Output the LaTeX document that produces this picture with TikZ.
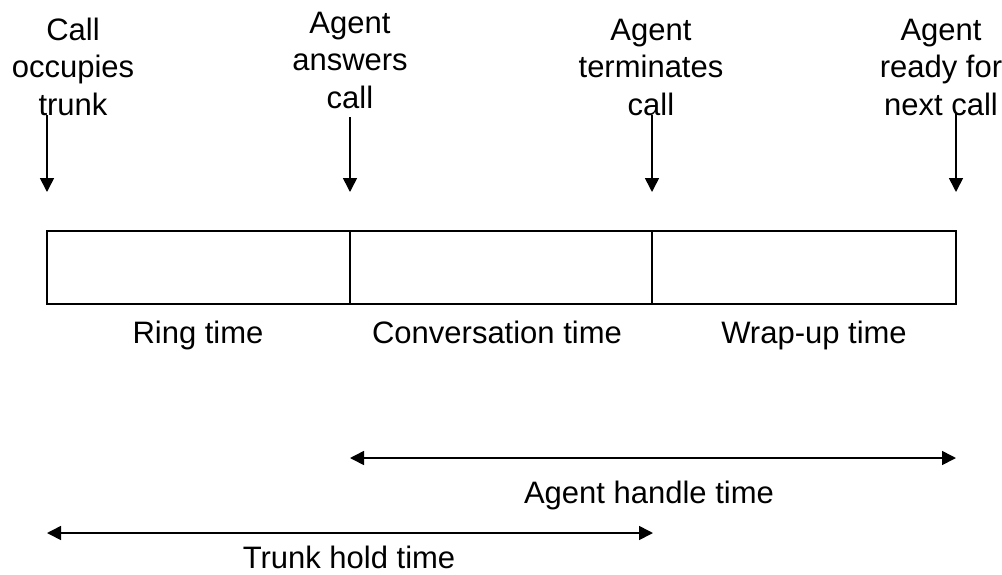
\documentclass[tikz,border=0pt]{standalone}
\usepackage{fontspec}
\setmainfont{Liberation Sans}
\usetikzlibrary{arrows.meta}
\begin{document}
\begin{tikzpicture}[x=1pt,y=-1pt,
  lbl/.style={font=\fontsize{31}{37.5}\selectfont, inner sep=0pt, align=center, anchor=base},
  conn/.style={line width=1.6pt, -{Triangle[width=14pt,length=14pt]}},
  dbl/.style={line width=1.6pt, {Triangle[width=14pt,length=14pt]}-{Triangle[width=14pt,length=14pt]}},
  boxline/.style={line width=1.6pt}]
\useasboundingbox (0,0) rectangle (1002,574);
% event labels (anchored at the baseline of their last line)
\node[lbl] (l0) at (73,115) {Call\\occupies\\trunk};
\node[lbl] (l1) at (350,108) {Agent\\answers\\call};
\node[lbl] (l2) at (651,115) {Agent\\terminates\\call};
\node[lbl] (l3) at (941,115) {Agent\\ready for\\next call};
% arrow ends
\coordinate (s0) at (47,115);  \coordinate (e0) at (47,192);
\coordinate (s1) at (350,117); \coordinate (e1) at (350,192);
\coordinate (s2) at (652,115); \coordinate (e2) at (652,192);
\coordinate (s3) at (956,112); \coordinate (e3) at (956,192);
\draw[conn] (s0) -- (e0);
\draw[conn] (s1) -- (e1);
\draw[conn] (s2) -- (e2);
\draw[conn] (s3) -- (e3);
% timeline box
\coordinate (b0) at (47,231);
\coordinate (b3) at (956,304);
\coordinate (d1t) at (350,231); \coordinate (d1b) at (350,304);
\coordinate (d2t) at (652,231); \coordinate (d2b) at (652,304);
\draw[boxline] (b0) rectangle (b3);
\draw[boxline] (d1t) -- (d1b);
\draw[boxline] (d2t) -- (d2b);
\node[lbl] (ring) at (198,343) {Ring time};
\node[lbl] (conv) at (497,343) {Conversation time};
\node[lbl] (wrap) at (814,343) {Wrap-up time};
% durations
\coordinate (h1) at (350,458); \coordinate (h2) at (956,458);
\draw[dbl] (h1) -- (h2);
\node[lbl] (aht) at (649,503) {Agent handle time};
\coordinate (t1) at (47,533); \coordinate (t2) at (653,533);
\draw[dbl] (t1) -- (t2);
\node[lbl] (tht) at (349,568) {Trunk hold time};
\end{tikzpicture}
\end{document}
